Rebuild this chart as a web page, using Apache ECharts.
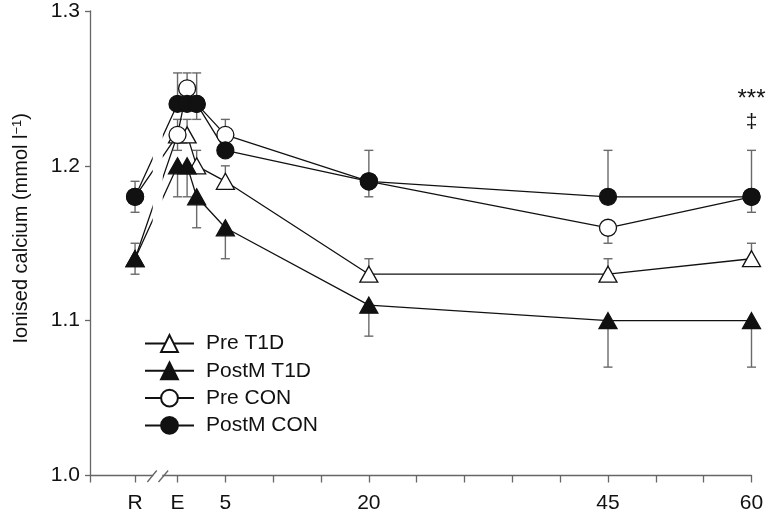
<!DOCTYPE html>
<html><head><meta charset="utf-8">
<script src="https://cdn.jsdelivr.net/npm/echarts@6/dist/echarts.min.js"></script>
<style>html,body{margin:0;padding:0;background:#fff}#c{width:768px;height:525px}</style>
</head><body><div id="c"></div>
<script>
// x positions: R (rest, before axis break), E (end of exercise = 0 min), 1, 2, 5, 20, 45, 60 min
const xPositions = [-4.44, 0, 1, 2, 5, 20, 45, 60];
const xTickValues = [-9.15, -4.44, 0, 5, 10, 15, 20, 25, 30, 35, 40, 45, 50, 55, 60];
const xLabelValues = [-4.44, 0, 5, 20, 45, 60];
const xLabelTexts = ['R', 'E', '5', '20', '45', '60'];
const yTickValues = [1.0, 1.1, 1.2, 1.3];
const axisBreakAt = -2.07;

const seriesNames = ['Pre T1D', 'PostM T1D', 'Pre CON', 'PostM CON'];
const preT1D    = [1.14, 1.22, 1.22, 1.20, 1.19, 1.13, 1.13, 1.14];
const postT1D   = [1.14, 1.20, 1.20, 1.18, 1.16, 1.11, 1.10, 1.10];
const preCON    = [1.18, 1.22, 1.25, 1.24, 1.22, 1.19, 1.16, 1.18];
const postCON   = [1.18, 1.24, 1.24, 1.24, 1.21, 1.19, 1.18, 1.18];
// SEM, drawn one-sided (up: +1, down: -1)
const preT1DErr  = [0.01, 0.01, 0.01, 0.01, 0.01, 0.01, 0.01, 0.01];
const postT1DErr = [0.01, 0.02, 0.02, 0.02, 0.02, 0.02, 0.03, 0.03];
const preCONErr  = [0.01, 0.01, 0.01, 0.01, 0.01, 0.01, 0.01, 0.01];
const postCONErr = [0.01, 0.02, 0.02, 0.02, 0.02, 0.02, 0.03, 0.03];
const errDirection = [1, -1, -1, 1];
const annotations = [{x: 60, y: 1.243, text: '***', size: 24}, {x: 60, y: 1.228, text: '‡', size: 21}];

const FONT = 'Liberation Sans, Arial, Helvetica, sans-serif';
const INK = '#111';
const AXIS = '#666';
const ERR = '#6a6a6a';
const FS = 21;

const values = [preT1D, postT1D, preCON, postCON];
const errs = [preT1DErr, postT1DErr, preCONErr, postCONErr];
const symbols = ['triangle', 'triangle', 'circle', 'circle'];
const fills = ['#fff', INK, '#fff', INK];
const symSizes = [[18, 16], [18, 16], 17, 17];

function errRender(params, api) {
  const x = api.value(0), y0 = api.value(1), y1 = api.value(2);
  const p0 = api.coord([x, y0]), p1 = api.coord([x, y1]);
  const st = {stroke: ERR, lineWidth: 1.4};
  return {type: 'group', children: [
    {type: 'line', shape: {x1: p0[0], y1: p0[1], x2: p1[0], y2: p1[1]}, style: st},
    {type: 'line', shape: {x1: p1[0] - 4.5, y1: p1[1], x2: p1[0] + 4.5, y2: p1[1]}, style: st}
  ]};
}

function breakRender(params, api) {
  const v = api.value(0);
  const a = api.coord([v, 1.0]);
  const top = api.coord([v, 1.265]);
  const bot = api.coord([v, 1.12]);
  return {type: 'group', children: [
    {type: 'rect', shape: {x: a[0] - 5, y: top[1], width: 10, height: bot[1] - top[1]}, style: {fill: '#fff'}},
    {type: 'rect', shape: {x: a[0] - 4.5, y: a[1] - 2, width: 9, height: 4}, style: {fill: '#fff'}},
    {type: 'line', shape: {x1: a[0] - 10.4, y1: a[1] + 6.5, x2: a[0] - 1, y2: a[1] - 5}, style: {stroke: AXIS, lineWidth: 1.3}},
    {type: 'line', shape: {x1: a[0] + 0.8, y1: a[1] + 6.5, x2: a[0] + 10.4, y2: a[1] - 5}, style: {stroke: AXIS, lineWidth: 1.3}}
  ]};
}

const series = [];
values.forEach((vals, i) => {
  series.push({
    name: seriesNames[i] + ' err',
    type: 'custom',
    renderItem: errRender,
    z: 1,
    silent: true,
    encode: {x: 0, y: [1, 2]},
    data: vals.map((v, j) => [xPositions[j], v, +(v + errDirection[i] * errs[i][j]).toFixed(3)])
  });
});
values.forEach((vals, i) => {
  const s = {
    name: seriesNames[i],
    type: 'line',
    z: 2,
    symbol: symbols[i],
    symbolSize: symSizes[i],
    showAllSymbol: true,
    lineStyle: {color: INK, width: 1.3},
    itemStyle: {color: fills[i], borderColor: INK, borderWidth: 1.3, opacity: 1},
    emphasis: {disabled: true},
    data: vals.map((v, j) => [xPositions[j], v])
  };
  if (i === 3) {
    s.markPoint = {
      symbol: 'circle', symbolSize: 1,
      itemStyle: {color: 'rgba(0,0,0,0)', borderWidth: 0},
      label: {show: true, position: 'inside', formatter: '{b}', color: INK, fontFamily: FONT, fontSize: 21},
      data: annotations.map(a => ({name: a.text, coord: [a.x, a.y], label: {fontSize: a.size}}))
    };
  }
  series.push(s);
});
series.push({
  name: 'axis break', type: 'custom', z: 3, silent: true,
  renderItem: breakRender, encode: {x: 0, y: 1},
  data: [[axisBreakAt, 1.0]]
});

const chart = echarts.init(document.getElementById('c'), null, {renderer: 'canvas'});
chart.setOption({
  animation: false,
  backgroundColor: '#fff',
  textStyle: {fontFamily: FONT, color: INK},
  grid: {left: 90, right: 16.5, top: 11, bottom: 49.5, containLabel: false},
  legend: {
    data: seriesNames,
    orient: 'vertical',
    left: 139, top: 328,
    itemWidth: 49, itemHeight: 21, itemGap: 6.3,
    textStyle: {fontFamily: FONT, fontSize: FS, color: INK, padding: [0, 0, 0, 7]},
    selectedMode: false
  },
  xAxis: {
    type: 'value', min: -9.15, max: 60,
    axisLine: {show: true, onZero: false, lineStyle: {color: AXIS, width: 1.3}},
    axisTick: {show: true, length: 7, customValues: xTickValues, lineStyle: {color: AXIS, width: 1.3}},
    axisLabel: {
      customValues: xLabelValues, margin: 17, fontSize: FS, color: INK, fontFamily: FONT,
      formatter: v => { const k = xLabelValues.findIndex(t => Math.abs(t - v) < 1e-6); return k >= 0 ? xLabelTexts[k] : ''; }
    },
    splitLine: {show: false}
  },
  yAxis: {
    type: 'value', min: 1.0, max: 1.3,
    name: '{a|Ionised calcium (mmol l}{s|−1}{a|)}',
    nameLocation: 'middle', nameGap: 59, nameRotate: 90,
    nameTextStyle: {fontFamily: FONT, fontSize: 20, color: INK, padding: [0, 0, 0, 30],
      rich: {a: {fontFamily: FONT, fontSize: 20, color: INK}, s: {fontFamily: FONT, fontSize: 13, color: INK, verticalAlign: 'top'}}},
    axisLine: {show: true, onZero: false, lineStyle: {color: AXIS, width: 1.3}},
    axisTick: {show: true, length: 5, customValues: yTickValues, lineStyle: {color: AXIS, width: 1.3}},
    axisLabel: {customValues: yTickValues, margin: 10, fontSize: FS, color: INK, fontFamily: FONT,
      formatter: v => v.toFixed(1)},
    splitLine: {show: false}
  },
  series: series
});
</script></body></html>
